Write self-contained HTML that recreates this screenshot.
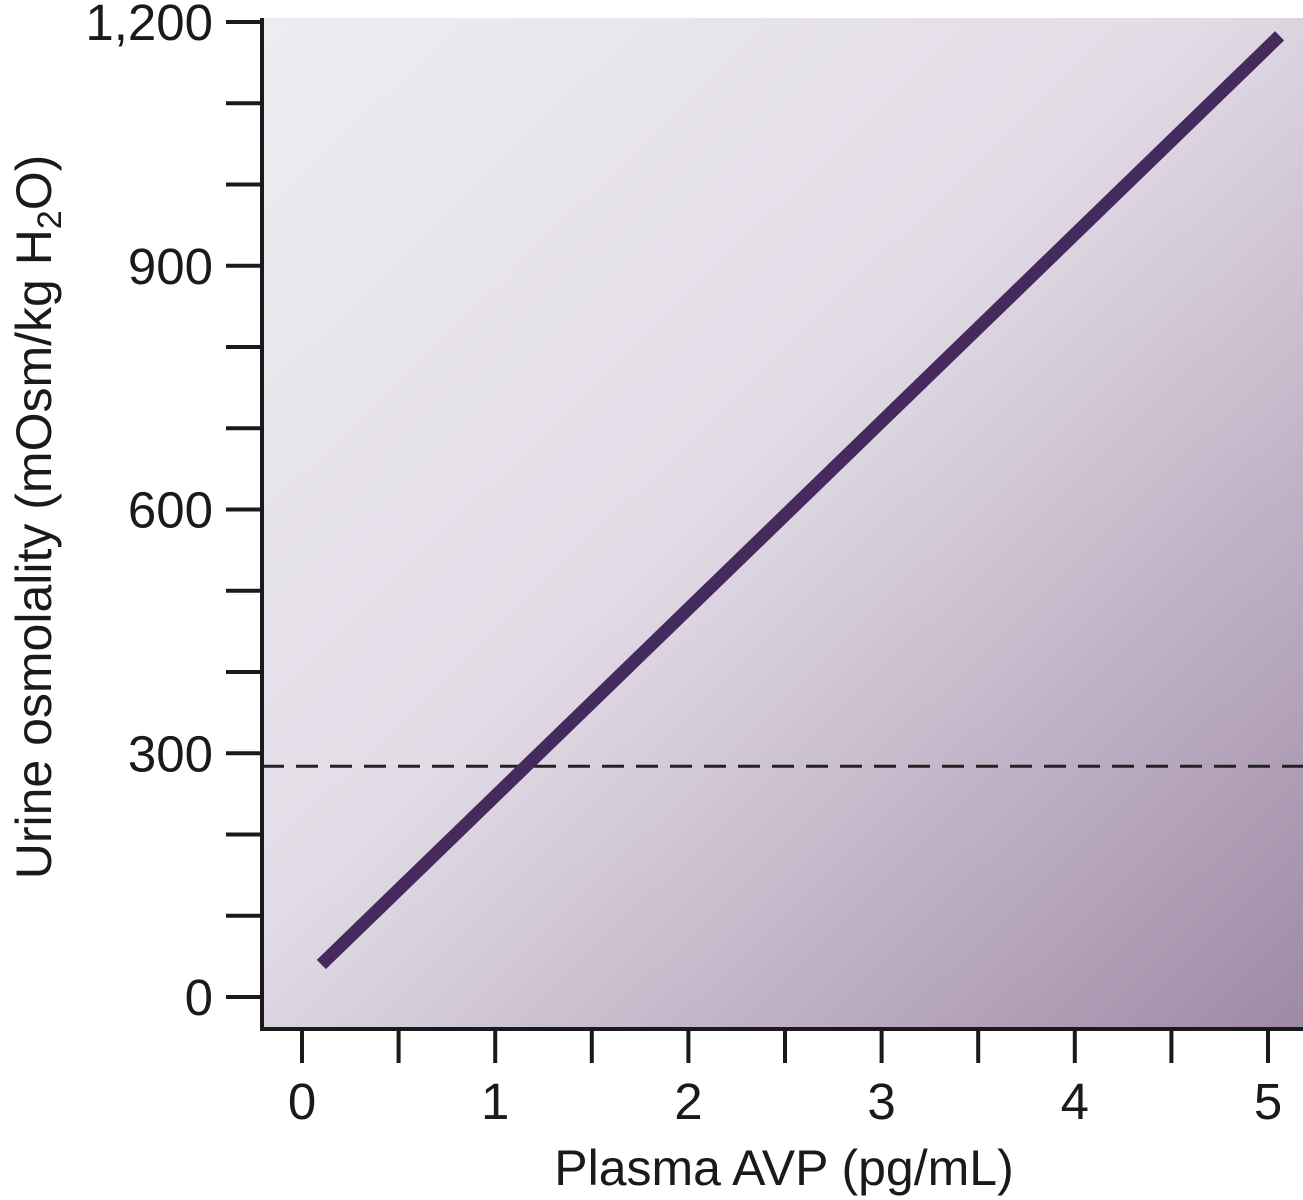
<!DOCTYPE html>
<html><head><meta charset="utf-8"><style>
html,body{margin:0;padding:0;background:#fff;width:1303px;height:1200px;overflow:hidden}
svg text{font-family:"Liberation Sans",sans-serif;fill:#1a1a1a}
</style></head><body>
<svg id="chart" width="1303" height="1200" xmlns="http://www.w3.org/2000/svg">
<defs>
<linearGradient id="bg" x1="0" y1="0" x2="1" y2="1">
<stop offset="0" stop-color="#eeecf1"/><stop offset="0.45" stop-color="#e2dce6"/><stop offset="1" stop-color="#9f89a6"/>
</linearGradient>
</defs>
<rect x="262" y="18" width="1041" height="1011" fill="url(#bg)"/>
<g id="marks"></g>
<g id="axes"></g>
<text x="784" y="1185" font-size="50" text-anchor="middle">Plasma AVP (pg/mL)</text>
<text transform="translate(51,517) rotate(-90)" font-size="50" text-anchor="middle">Urine osmolality (mOsm/kg H<tspan font-size="34" dy="10">2</tspan><tspan dy="-10">O)</tspan></text>
</svg>
<script>
const xTicks=[0,1,2,3,4,5];
const yTicks=[0,300,600,900,1200];
const yTickLabels=["0","300","600","900","1,200"];
const lineX=[0.1,5.06];
const lineY=[40,1183];
const thresholdY=[284];
const X=v=>302+v*193.2;
const Y=v=>997-v*0.8125;
const NS="http://www.w3.org/2000/svg";
const marks=document.getElementById('marks'),axes=document.getElementById('axes');
function mk(p,tag,attrs){const e=document.createElementNS(NS,tag);for(const k in attrs)e.setAttribute(k,attrs[k]);p.appendChild(e);return e;}
const dash=mk(marks,'line',{x1:262,x2:1303,y1:Y(thresholdY[0]),y2:Y(thresholdY[0]),stroke:'#222','stroke-width':3,'stroke-dasharray':'22 12'});


const ln=mk(marks,'line',{x1:X(lineX[0]),y1:Y(lineY[0]),x2:X(lineX[1]),y2:Y(lineY[1]),stroke:'#452a5e','stroke-width':13});


const ya=mk(axes,'line',{x1:262,x2:262,y1:18,y2:1031,stroke:'#1a1a1a','stroke-width':4});


const xa=mk(axes,'line',{x1:260,x2:1303,y1:1029,y2:1029,stroke:'#1a1a1a','stroke-width':4});


for(let v=0;v<=1200;v+=100){
  const t=mk(axes,'line',{x1:226,x2:262,y1:Y(v),y2:Y(v),stroke:'#1a1a1a','stroke-width':4});
  
  
}
yTicks.forEach((v,i)=>{
  const t=mk(axes,'text',{x:213,y:Y(v)+18,'font-size':51,'text-anchor':'end'});
  t.textContent=yTickLabels[i];
  
  
});
for(let v=0;v<=5;v+=0.5){
  const t=mk(axes,'line',{x1:X(v),x2:X(v),y1:1031,y2:1063,stroke:'#1a1a1a','stroke-width':4});
  
  
}
xTicks.forEach(v=>{
  const t=mk(axes,'text',{x:X(v),y:1119,'font-size':51,'text-anchor':'middle'});
  t.textContent=String(v);
  
  
});
</script>
</body></html>
